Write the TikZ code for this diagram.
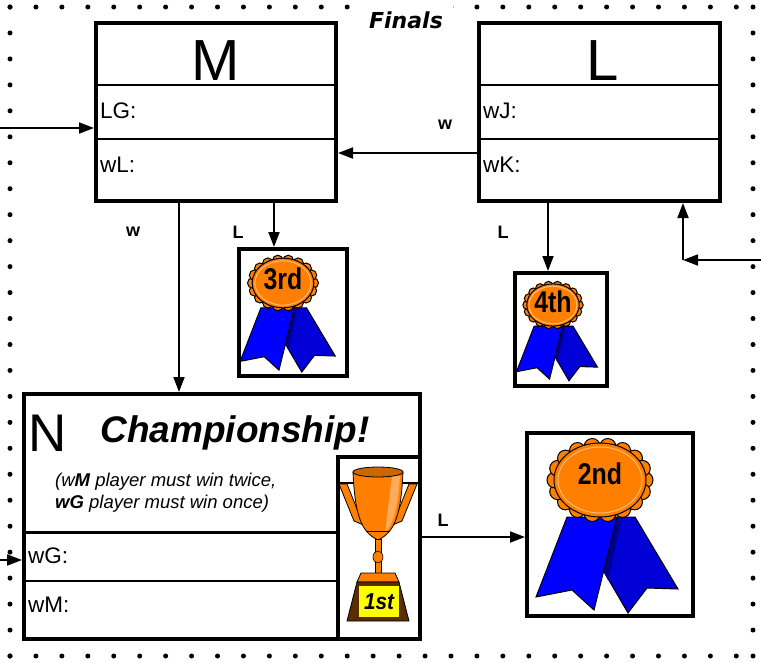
\documentclass[tikz,border=0pt]{standalone}
\usepackage{fontspec}
\setmainfont{Liberation Sans}
\newfontfamily\finalsfont{DejaVu Sans}
\usepackage{tikz}
\usetikzlibrary{arrows.meta, positioning, shapes}

\definecolor{medalorange}{RGB}{255,128,0}
\definecolor{ribbonblue}{RGB}{0,0,255}
\definecolor{ribbondark}{RGB}{0,0,215}
\definecolor{ribbonshade}{RGB}{0,0,140}
\definecolor{cuplight}{RGB}{255,170,90}
\definecolor{basebrown}{RGB}{90,45,0}
\definecolor{plaqueyellow}{RGB}{255,255,0}

\tikzset{
    roundbox/.style={draw, line width=4pt, fill=white, inner sep=0pt},
    divider/.style={line width=2.5pt},
    link/.style={line width=1.8pt, -{Triangle[length=15pt,width=11pt]}},
    tag/.style={font=\fontsize{18}{18}\selectfont\bfseries},
    slot/.style={anchor=base west, inner sep=0pt, font=\fontsize{22.5}{22.5}\selectfont},
    gamename/.style={anchor=base, inner sep=0pt, font=\fontsize{58}{58}\selectfont},
    note/.style={anchor=base west, inner sep=0pt, font=\fontsize{18.5}{18.5}\selectfont\itshape},
    medaltext/.style={font=\fontsize{30}{30}\selectfont\bfseries, xscale=0.83, inner sep=0pt},
    medal/.pic={
        % ribbons
        \filldraw[fill=ribbondark, line width=1pt] (10,37) -- (35,37) -- (78,109) -- (47,108) -- (28,133) -- (0,85) -- cycle;
        \fill[ribbonshade] (10,37) -- (22,37) -- (8,100) -- (0,85) -- cycle;
        \filldraw[fill=ribbonblue, line width=1pt] (-33,37) -- (17,37) -- (-6,130) -- (-28,110) -- (-64,117) -- cycle;
        % rosette
        \foreach \a in {0,20,...,340}
            \filldraw[fill=medalorange, line width=1pt] ({45*cos(\a)},{34*sin(\a)}) circle [radius=8];
        \filldraw[fill=medalorange, line width=1pt] (0,0) ellipse [x radius=46, y radius=37];
        \draw[medalorange!55!white, line width=1pt] (0,0) ellipse [x radius=42, y radius=33];
        \node[medaltext] at (0,-6) {#1};
    }
}

\begin{document}
\begin{tikzpicture}[x=1pt, y=-1pt]
    \useasboundingbox (0,0) rectangle (761,662);

    % Dotted frame
    \foreach \i in {0,...,28} {
        \fill ({10+25.94*\i},7) circle [radius=2.5];
        \fill ({10+25.94*\i},656) circle [radius=2.5];
    }
    \foreach \j in {0,...,25} {
        \fill (10,{7+25.96*\j}) circle [radius=2.5];
        \fill (753,{7+25.96*\j}) circle [radius=2.5];
    }
    \node[fill=white, inner xsep=10pt, inner ysep=8pt, anchor=base,
          font=\finalsfont\fontsize{22}{22}\selectfont\bfseries\itshape] (finals) at (406,28) {Finals};

    % Game M
    \node[roundbox, minimum width=240pt, minimum height=178pt] (M) at (216,112) {};
    \draw[divider] ([yshift=-64pt]M.north west) -- ([yshift=-64pt]M.north east);
    \draw[divider] ([yshift=-118pt]M.north west) -- ([yshift=-118pt]M.north east);
    \node[gamename] (Mname) at (216,80) {M};
    \node[slot] (LG) at (100,118) {LG:};
    \node[slot] (wL) at (100,172) {wL:};

    % Game L
    \node[roundbox, minimum width=241pt, minimum height=178pt] (L) at (599.5,112) {};
    \draw[divider] ([yshift=-64pt]L.north west) -- ([yshift=-64pt]L.north east);
    \draw[divider] ([yshift=-118pt]L.north west) -- ([yshift=-118pt]L.north east);
    \node[gamename] (Lname) at (603,80) {L};
    \node[slot] (wJ) at (483,118) {wJ:};
    \node[slot] (wK) at (483,172) {wK:};

    % Game N
    \node[roundbox, minimum width=396pt, minimum height=245pt] (N) at (222,516.5) {};
    \draw[line width=3pt] (24,532) -- (338,532);
    \draw[divider] (24,581) -- (338,581);
    \node[anchor=base west, inner sep=0pt, font=\fontsize{53}{53}\selectfont] (Nname) at (28,451) {N};
    \node[anchor=base, inner sep=0pt, font=\fontsize{37}{37}\selectfont\bfseries\itshape] (champ) at (235,442) {Championship!};
    \node[note] (note1) at (55,486) {(w\textbf{M} player must win twice,};
    \node[note] (note2) at (55,508) {\textbf{wG} player must win once)};
    \node[slot] (wG) at (28,563) {wG:};
    \node[slot] (wM) at (28,612) {wM:};

    % Trophy
    \node[roundbox, line width=3.5pt, minimum width=82pt, minimum height=182pt] (cupbox) at (379,548) {};
    \draw[line width=2.5pt] (339,483) -- (418,483);
    \filldraw[fill=medalorange, line width=0.8pt] (339,484) -- (347,484) -- (359,514) -- (368,519) -- (366,526) -- (354,521) -- cycle;
    \filldraw[fill=medalorange, line width=0.8pt] (417,484) -- (409,484) -- (397,514) -- (388,519) -- (390,526) -- (402,521) -- cycle;
    \filldraw[fill=medalorange, line width=0.8pt] (353,472) -- (403,472) .. controls (401,515) and (395,532) .. (378,540) .. controls (361,532) and (355,515) .. (353,472) -- cycle;
    \fill[cuplight] (392,476) -- (400,476) .. controls (398,510) and (393,524) .. (385,533) -- cycle;
    \draw[line width=0.6pt] (366,531) -- (390,531);
    \filldraw[fill=medalorange!80!black, line width=0.8pt] (378,472) ellipse [x radius=25, y radius=5];
    \filldraw[fill=medalorange, line width=0.6pt] (375,539) rectangle (381,573);
    \filldraw[fill=medalorange, line width=0.6pt] (378,557) ellipse [x radius=5, y radius=6];
    \filldraw[fill=medalorange, line width=0.8pt] (361,573) -- (395,573) -- (399,582) -- (357,582) -- cycle;
    \filldraw[fill=basebrown, line width=0.8pt] (357,582) -- (399,582) -- (409,621) -- (347,621) -- cycle;
    \fill[plaqueyellow] (359,586) rectangle (399,617);
    \node[inner sep=0pt, xscale=0.9, font=\fontsize{23}{23}\selectfont\bfseries\itshape] (first) at (379,602) {1st};

    % Ribbons
    \node[roundbox, minimum width=108pt, minimum height=127pt] (third) at (293,312.5) {};
    \pic[scale=0.67] at (283,283) {medal=3rd};
    \node[roundbox, minimum width=92pt, minimum height=113pt] (fourth) at (561,329.5) {};
    \pic[scale=0.57] at (553,305) {medal=4th};
    \node[roundbox, minimum width=166pt, minimum height=183pt] (second) at (610,524.5) {};
    \pic at (600,480) {medal=2nd};

    % Connectors
    \coordinate (inM) at (0,128);
    \coordinate (inN) at (0,560);
    \coordinate (inL) at (761,260);
    \coordinate (bend) at (683,260);
    \draw[link] (inM) -- (inM -| M.west);
    \draw[link] (inN) -- (inN -| N.west);
    \draw[link] (inL) -- (bend);
    \draw[link] (bend) -- (bend |- L.south);
    \draw[link] ([yshift=-41pt]L.west) -- ([yshift=-41pt]M.east);
    \draw[link] ([xshift=-37pt]M.south) -- ([xshift=-37pt]M.south |- N.north);
    \draw[link] ([xshift=58pt]M.south) -- ([xshift=58pt]M.south |- third.north);
    \draw[link] ([xshift=-51.5pt]L.south) -- ([xshift=-51.5pt]L.south |- fourth.north);
    \draw[link] ([yshift=-20.5pt]N.east) -- ([yshift=-20.5pt]N.east -| second.west);

    % Labels
    \node[tag] (wLM) at (445,125) {w};
    \node[tag] (wMN) at (133,232) {w};
    \node[tag] (lM) at (238,232) {L};
    \node[tag] (lL) at (503,232) {L};
    \node[tag] (lN) at (443,520) {L};

\end{tikzpicture}
\end{document}
